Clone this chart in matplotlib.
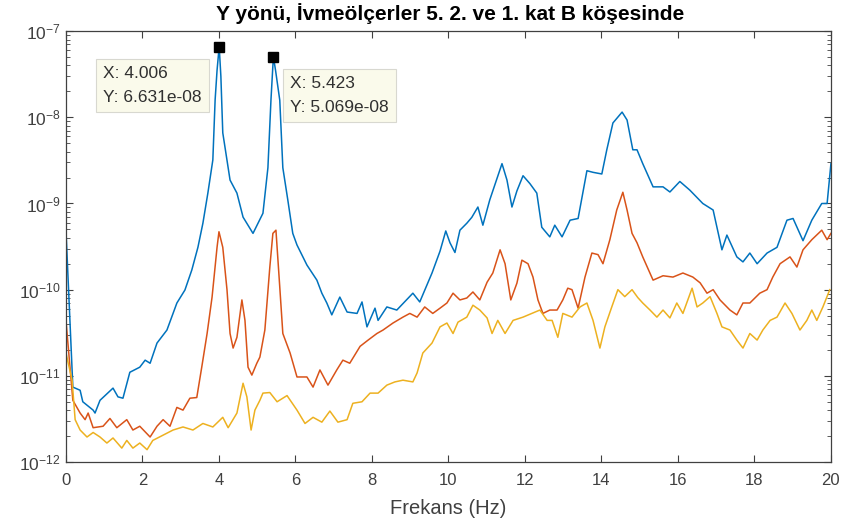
#!/usr/bin/env python3
"""Spectrum plot: Y direction, accelerometers at floors 5, 2 and 1 (corner B)."""
import matplotlib
matplotlib.use("Agg")
import matplotlib.pyplot as plt
from matplotlib.ticker import LogLocator, MultipleLocator, NullFormatter

BLUE = "#0072BD"
ORANGE = "#D95319"
YELLOW = "#EDB120"
AXC = "#404040"

plt.rcParams.update({
    "font.family": ["Liberation Sans", "DejaVu Sans"],
    "mathtext.default": "regular",
    "axes.edgecolor": AXC,
    "xtick.color": AXC,
    "ytick.color": AXC,
})

# 5. kat
f_blue = [0.00, 0.18, 0.37, 0.44, 0.71, 0.76, 0.89, 1.23, 1.36, 1.49, 1.67, 1.93, 2.07,
          2.20, 2.38, 2.64, 2.90, 3.11, 3.29, 3.45, 3.58, 3.71, 3.84, 3.90, 3.95, 4.006,
          4.05, 4.08, 4.10, 4.29, 4.47, 4.63, 4.89, 5.15, 5.28, 5.36, 5.423, 5.48, 5.59,
          5.67, 5.80, 5.93, 6.04, 6.30, 6.56,
          6.69, 6.82, 6.95, 7.16, 7.35, 7.61, 7.74, 7.87, 8.08, 8.16, 8.39, 8.65, 9.07,
          9.25, 9.57, 9.78, 9.93, 10.04, 10.17, 10.30, 10.48, 10.61, 10.77, 10.90, 11.08,
          11.40, 11.53, 11.66, 11.79, 11.95, 12.13, 12.31, 12.44, 12.65, 12.78, 12.97,
          13.18, 13.39, 13.62, 13.78, 14.01, 14.14, 14.30, 14.54, 14.67, 14.82, 14.93,
          15.08, 15.35, 15.61, 15.79, 16.05, 16.31, 16.65, 16.92, 17.15, 17.28, 17.54,
          17.70, 17.88, 18.07, 18.33, 18.59, 18.85, 19.01, 19.27, 19.50, 19.76, 19.90, 20.0]
a_blue = [4.9e-10, 7.4e-12, 6.8e-12, 5.0e-12, 4.0e-12, 3.7e-12, 5.2e-12, 7.2e-12, 5.7e-12,
          5.5e-12, 1.1e-11, 1.26e-11, 1.52e-11, 1.4e-11, 2.4e-11, 3.4e-11, 7.0e-11, 9.9e-11,
          1.69e-10, 3.1e-10, 5.9e-10, 1.32e-9, 3.2e-9, 1.6e-8, 3.5e-8, 6.631e-8,
          3.0e-8, 1.2e-8, 6.6e-9, 1.87e-9, 1.32e-9, 6.95e-10, 4.5e-10, 7.7e-10, 2.6e-9,
          1.6e-8, 5.069e-8, 3.5e-8, 1.58e-8, 2.6e-9, 1.1e-9, 4.5e-10,
          3.3e-10, 1.93e-10, 1.29e-10, 9.1e-11, 7.0e-11, 5.1e-11, 8.2e-11, 5.5e-11, 5.3e-11,
          7.2e-11, 3.7e-11, 6.1e-11, 4.4e-11, 6.3e-11, 5.8e-11, 9.1e-11, 7.2e-11, 1.56e-10,
          2.8e-10, 4.8e-10, 3.5e-10, 2.7e-10, 4.9e-10, 5.9e-10, 6.9e-10, 9.1e-10, 5.6e-10,
          1.1e-9, 2.9e-9, 1.87e-9, 9.1e-10, 1.4e-9, 2.1e-9, 1.7e-9, 1.32e-9, 5.3e-10,
          4.1e-10, 5.6e-10, 4.1e-10, 6.4e-10, 6.7e-10, 2.4e-9, 2.3e-9, 2.2e-9, 4.2e-9,
          8.6e-9, 1.15e-8, 9.3e-9, 4.2e-9, 4.2e-9, 2.9e-9, 1.56e-9, 1.56e-9, 1.36e-9,
          1.8e-9, 1.43e-9, 1.0e-9, 8.4e-10, 2.9e-10, 4.3e-10, 2.4e-10, 2.1e-10, 2.66e-10,
          2.0e-10, 2.66e-10, 3.1e-10, 6.4e-10, 6.7e-10, 3.7e-10, 6.4e-10, 1.0e-9, 1.0e-9,
          2.9e-9]

# 2. kat
f_orange = [0.00, 0.18, 0.37, 0.50, 0.58, 0.71, 0.97, 1.15, 1.33, 1.59, 1.75, 1.93, 2.20,
            2.38, 2.54, 2.72, 2.90, 3.06, 3.24, 3.42, 3.55, 3.69, 3.82, 3.95, 4.00, 4.10,
            4.21, 4.29, 4.37, 4.47, 4.60, 4.68, 4.76, 4.86, 4.99, 5.07, 5.20, 5.33, 5.41,
            5.49, 5.59, 5.67, 5.86, 6.04, 6.30, 6.46, 6.64, 6.85, 7.08, 7.24, 7.42, 7.69,
            7.90, 8.13, 8.29, 8.55, 8.81, 8.99, 9.18, 9.38, 9.59, 9.78, 9.96, 10.12, 10.30,
            10.48, 10.64, 10.82, 11.01, 11.16, 11.35, 11.48, 11.63, 11.79, 11.92, 12.08,
            12.21, 12.34, 12.47, 12.65, 12.84, 12.99, 13.12, 13.23, 13.39, 13.57, 13.75,
            13.91, 14.04, 14.22, 14.40, 14.56, 14.67, 14.80, 14.93, 15.08, 15.35, 15.61,
            15.87, 16.13, 16.39, 16.58, 16.76, 16.92, 17.10, 17.36, 17.54, 17.70, 17.88,
            18.14, 18.33, 18.48, 18.67, 18.93, 19.11, 19.27, 19.50, 19.76, 19.90, 20.0]
a_orange = [4.4e-11, 5.2e-12, 3.7e-12, 3.1e-12, 3.7e-12, 2.5e-12, 2.6e-12, 3.2e-12, 2.5e-12,
            3.1e-12, 2.35e-12, 2.6e-12, 1.95e-12, 2.6e-12, 3.1e-12, 2.6e-12, 4.3e-12, 4.0e-12,
            5.5e-12, 5.6e-12, 1.26e-11, 3.1e-11, 8.2e-11, 3.1e-10, 4.7e-10, 3.1e-10, 1.0e-10,
            3.1e-11, 2.1e-11, 2.8e-11, 7.6e-11, 4.4e-11, 1.26e-11, 1.02e-11, 1.4e-11, 1.65e-11,
            3.4e-11, 1.83e-10, 4.5e-10, 4.9e-10, 1.07e-10, 3.1e-11, 1.84e-11, 9.7e-12, 9.7e-12,
            7.4e-12, 1.17e-11, 7.8e-12, 1.17e-11, 1.52e-11, 1.4e-11, 2.2e-11, 2.6e-11, 3.1e-11,
            3.4e-11, 4.1e-11, 4.8e-11, 5.3e-11, 4.8e-11, 6.3e-11, 5.3e-11, 6.1e-11, 7.0e-11,
            9.1e-11, 7.6e-11, 8.0e-11, 9.4e-11, 7.6e-11, 1.22e-10, 1.56e-10, 2.9e-10, 2.0e-10,
            7.6e-11, 1.19e-10, 2.2e-10, 2.0e-10, 1.4e-10, 7.6e-11, 5.3e-11, 5.8e-11, 5.8e-11,
            7.6e-11, 1.04e-10, 1.0e-10, 6.1e-11, 1.4e-10, 2.66e-10, 2.55e-10, 2.0e-10, 3.8e-10,
            8.4e-10, 1.35e-9, 8.4e-10, 4.5e-10, 3.5e-10, 2.4e-10, 1.29e-10, 1.45e-10, 1.4e-10,
            1.56e-10, 1.4e-10, 1.2e-10, 9.1e-11, 1.0e-10, 7.6e-11, 5.8e-11, 5.1e-11, 7.0e-11,
            7.0e-11, 9.1e-11, 1.0e-10, 1.4e-10, 2.0e-10, 2.4e-10, 1.83e-10, 2.9e-10, 3.8e-10,
            4.9e-10, 3.8e-10, 4.5e-10]

# 1. kat
f_yellow = [0.00, 0.16, 0.24, 0.37, 0.55, 0.71, 0.89, 1.07, 1.23, 1.46, 1.59, 1.75, 1.93,
            2.12, 2.27, 2.54, 2.80, 3.06, 3.32, 3.58, 3.84, 4.10, 4.24, 4.47, 4.63, 4.73,
            4.84, 4.94, 5.07, 5.15, 5.33, 5.52, 5.78, 6.04, 6.25, 6.46, 6.69, 6.90, 7.11,
            7.35, 7.50, 7.74, 7.95, 8.16, 8.39, 8.60, 8.81, 9.07, 9.18, 9.33, 9.57, 9.78,
            9.96, 10.12, 10.25, 10.48, 10.64, 10.82, 11.01, 11.14, 11.29, 11.48, 11.69,
            11.95, 12.18, 12.39, 12.58, 12.71, 12.86, 12.99, 13.23, 13.44, 13.62, 13.78,
            13.96, 14.09, 14.27, 14.43, 14.61, 14.80, 14.95, 15.08, 15.27, 15.45, 15.61,
            15.79, 15.97, 16.13, 16.37, 16.50, 16.65, 16.84, 17.02, 17.15, 17.36, 17.54,
            17.70, 17.88, 18.07, 18.22, 18.41, 18.59, 18.80, 18.98, 19.19, 19.37, 19.50,
            19.63, 19.79, 19.97]
a_yellow = [1.84e-11, 8.9e-12, 3.1e-12, 2.35e-12, 1.95e-12, 2.2e-12, 1.95e-12, 1.66e-12,
            1.9e-12, 1.45e-12, 1.78e-12, 1.45e-12, 1.66e-12, 1.39e-12, 1.78e-12, 2.05e-12,
            2.35e-12, 2.55e-12, 2.35e-12, 2.8e-12, 2.55e-12, 3.3e-12, 2.5e-12, 3.7e-12,
            8.2e-12, 5.7e-12, 2.35e-12, 4.0e-12, 5.2e-12, 6.3e-12, 6.4e-12, 5.0e-12, 5.9e-12,
            4.0e-12, 2.8e-12, 3.3e-12, 2.9e-12, 3.9e-12, 2.9e-12, 3.1e-12, 4.8e-12, 5.0e-12,
            6.3e-12, 6.3e-12, 7.8e-12, 8.5e-12, 8.9e-12, 8.5e-12, 1.08e-11, 1.84e-11, 2.4e-11,
            3.7e-11, 4.1e-11, 3.1e-11, 4.2e-11, 4.8e-11, 6.6e-11, 5.8e-11, 4.7e-11, 3.1e-11,
            4.4e-11, 3.1e-11, 4.4e-11, 4.8e-11, 5.3e-11, 5.8e-11, 4.4e-11, 4.4e-11, 2.8e-11,
            5.3e-11, 4.8e-11, 6.3e-11, 7.0e-11, 4.4e-11, 2.1e-11, 3.7e-11, 6.3e-11, 1.0e-10,
            8.3e-11, 1.0e-10, 8.1e-11, 7.0e-11, 5.8e-11, 4.8e-11, 5.8e-11, 4.7e-11, 7.0e-11,
            5.3e-11, 1.04e-10, 6.3e-11, 7.0e-11, 8.3e-11, 5.3e-11, 3.7e-11, 3.4e-11, 2.6e-11,
            2.1e-11, 3.1e-11, 2.6e-11, 3.4e-11, 4.4e-11, 4.8e-11, 7.0e-11, 5.3e-11, 3.4e-11,
            4.4e-11, 5.8e-11, 4.4e-11, 6.3e-11, 1.0e-10]

# data tips
tips = [(4.006, 6.631e-08), (5.423, 5.069e-08)]
tip_offsets = [(-67, -39), (66, -39)]

fig = plt.figure(figsize=(8.6, 5.28), dpi=100)
ax = fig.add_axes([0.0767, 0.125, 0.8895, 0.816])

ax.plot(f_blue, a_blue, color=BLUE, lw=1.1)
ax.plot(f_orange, a_orange, color=ORANGE, lw=1.1)
ax.plot(f_yellow, a_yellow, color=YELLOW, lw=1.1)

ax.set_yscale("log")
ax.set_xlim(0, 20)
ax.set_ylim(1e-12, 1e-7)
ax.xaxis.set_major_locator(MultipleLocator(2))
ax.yaxis.set_major_locator(LogLocator(base=10, numticks=10))
ax.yaxis.set_minor_locator(LogLocator(base=10, subs=range(2, 10), numticks=10))
ax.yaxis.set_minor_formatter(NullFormatter())
ax.tick_params(which="both", direction="in", top=True, right=True)
ax.tick_params(axis="x", labelsize=12, pad=8)
ax.tick_params(axis="y", labelsize=12.5, pad=4)
ax.tick_params(which="major", length=5, width=0.8)
ax.tick_params(which="minor", length=3, width=0.6)
for s in ax.spines.values():
    s.set_linewidth(0.9)

for (tx, ty), off in zip(tips, tip_offsets):
    ax.plot(tx, ty, marker="s", ms=7, color="black", zorder=5)
    ax.annotate(f"X: {tx:.3f}\nY: {ty:.3e}",
                (tx, ty), textcoords="offset pixels", xytext=off,
                ha="center", va="center", multialignment="left",
                fontsize=12.5, color="#303030", linespacing=1.75,
                bbox=dict(boxstyle="square,pad=0.42", fc="#FAFAEB", ec="#D8D8D0", lw=0.8),
                zorder=6)

fig.suptitle("Y yönü, İvmeölçerler 5. 2. ve 1. kat B köşesinde",
             fontsize=15, fontweight="bold", x=0.523, y=0.995, va="top")
ax.set_xlabel("Frekans (Hz)", fontsize=14.5, color=AXC, labelpad=8)

fig.savefig("out.png", dpi=100, facecolor="white")
